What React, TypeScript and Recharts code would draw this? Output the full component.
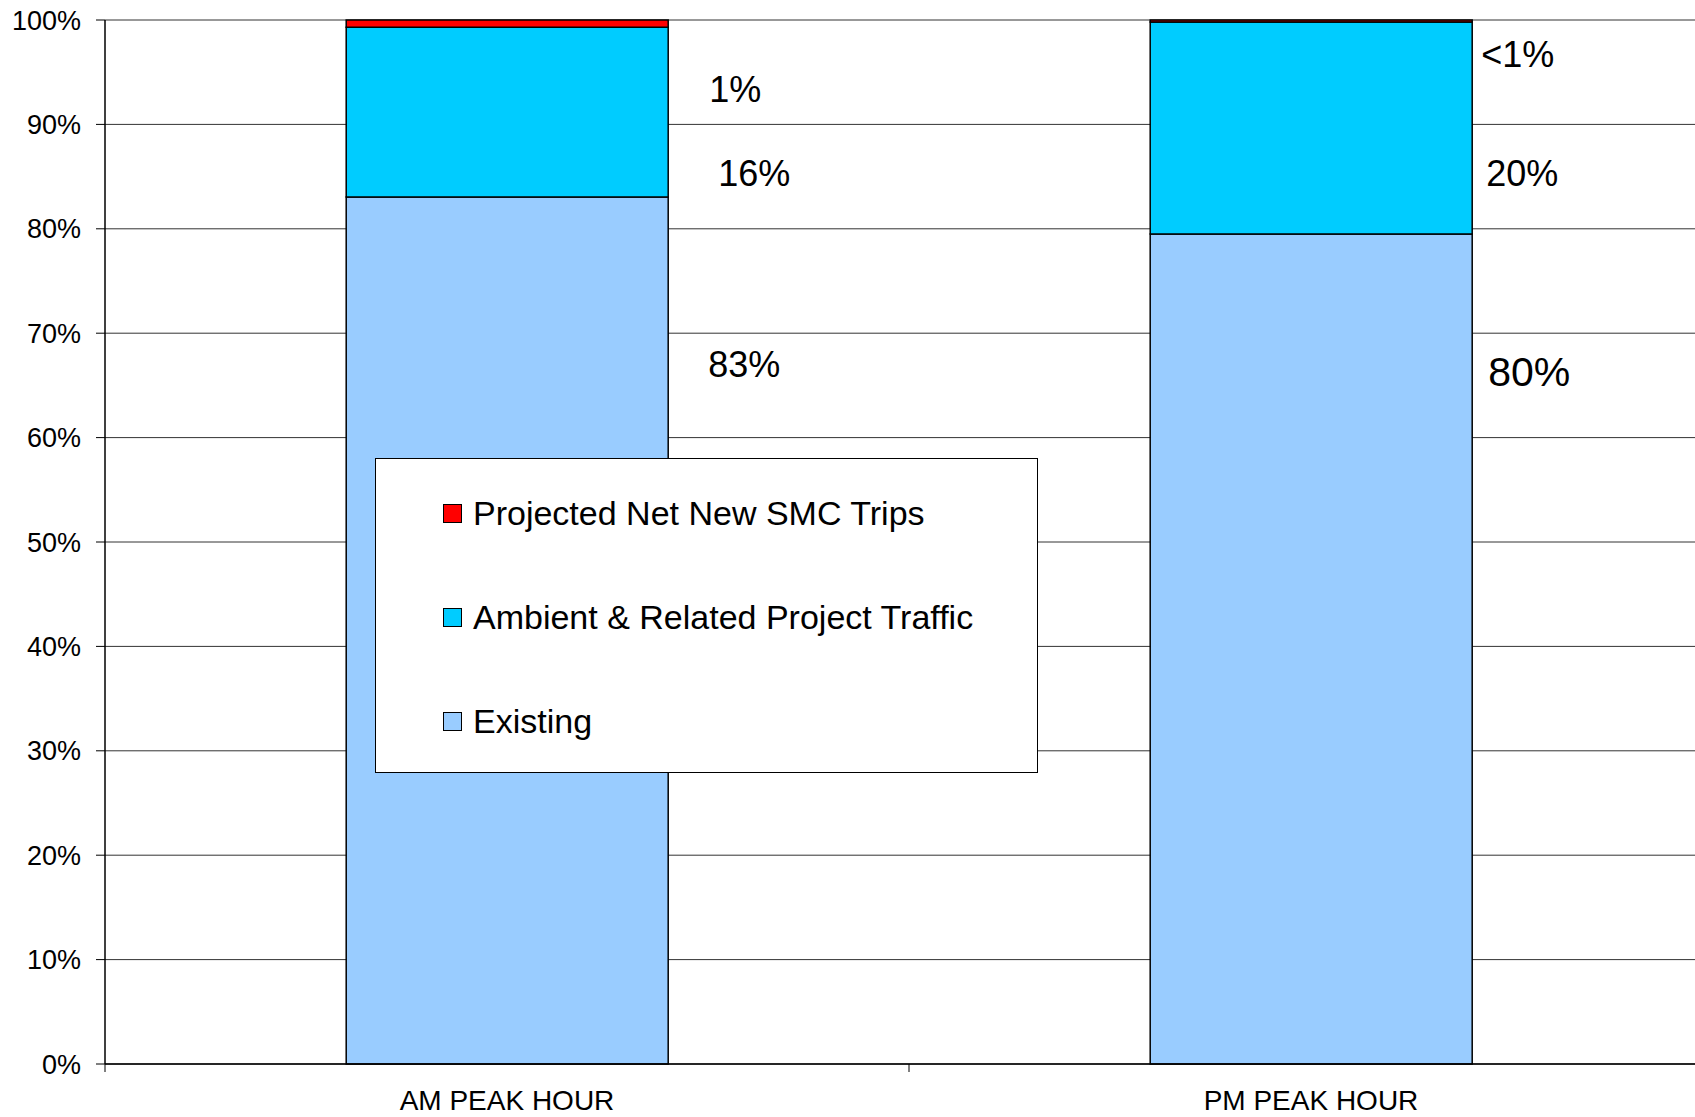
import React from 'react';
import { BarChart, Bar, XAxis, YAxis, CartesianGrid, Legend, LabelList } from 'recharts';

const CATEGORIES = ['AM PEAK HOUR', 'PM PEAK HOUR'];
const EXISTING = [83.05, 79.5];
const AMBIENT = [16.25, 20.3];
const SMC = [0.7, 0.2];
const EXISTING_LABELS = ['83%', '80%'];
const AMBIENT_LABELS = ['16%', '20%'];
const SMC_LABELS = ['1%', '<1%'];
const Y_TICKS = [0, 10, 20, 30, 40, 50, 60, 70, 80, 90, 100];
const LEGEND_ORDER = ['Projected Net New SMC Trips', 'Ambient & Related Project Traffic', 'Existing'];

const FONT = '"Liberation Sans", Arial, Helvetica, sans-serif';

const data = CATEGORIES.map((name, i) => ({
  name,
  existing: EXISTING[i],
  ambient: AMBIENT[i],
  smc: SMC[i],
}));

// hand-placed label offsets (relative to the segment's top right corner), like the original
const LABEL_POS: Record<string, { dx: number; dy: number; size: number }[]> = {
  existing: [{ dx: 40, dy: 168, size: 36 }, { dx: 16, dy: 138, size: 41 }],
  ambient: [{ dx: 50, dy: 146, size: 36 }, { dx: 14, dy: 151, size: 36 }],
  smc: [{ dx: 41, dy: 69, size: 36 }, { dx: 9, dy: 34, size: 36 }],
};

const makeLabel = (key: string, texts: string[]) => (props: any) => {
  const { x, y, width, index } = props;
  const p = LABEL_POS[key][index];
  return (
    <text
      x={Number(x) + Number(width) + p.dx}
      y={Number(y) + p.dy}
      fontSize={p.size}
      fontFamily={FONT}
      fill="#000"
      dominantBaseline="central"
    >
      {texts[index]}
    </text>
  );
};

const XTick = (props: any) => {
  const { x, y, payload } = props;
  const half = payload && payload.offset ? payload.offset : 402;
  return (
    <g>
      <line x1={x - half} y1={y - 8} x2={x - half} y2={y} stroke="#000" strokeWidth={1} />
      <text x={x} y={y + 38} textAnchor="middle" fontSize={28} fontFamily={FONT} fill="#000">
        {payload.value}
      </text>
    </g>
  );
};

const LegendBox = (props: any) => {
  const items = [...(props.payload || [])].sort(
    (a: any, b: any) => LEGEND_ORDER.indexOf(a.value) - LEGEND_ORDER.indexOf(b.value)
  );
  return (
    <div style={{ paddingTop: 2 }}>
      {items.map((it: any) => (
        <div
          key={it.value}
          style={{ height: 104, display: 'flex', alignItems: 'center', paddingLeft: 67 }}
        >
          <span
            style={{
              display: 'inline-block',
              width: 17,
              height: 17,
              background: it.color,
              border: '1px solid #000',
              marginRight: 11,
            }}
          />
          <span style={{ fontFamily: FONT, fontSize: 34, color: '#000', whiteSpace: 'nowrap' }}>
            {it.value}
          </span>
        </div>
      ))}
    </div>
  );
};

export default function App() {
  return (
    <div
      style={{
        position: 'fixed',
        left: 0,
        top: 0,
        width: 1695,
        height: 1117,
        overflow: 'hidden',
        background: '#fff',
      }}
    >
      <BarChart
        width={1713}
        height={1117}
        data={data}
        margin={{ top: 20, right: 0, left: 0, bottom: 0 }}
        barCategoryGap="30%"
      >
        <CartesianGrid vertical={false} stroke="#333" strokeWidth={1} />
        <XAxis
          dataKey="name"
          height={53}
          tickLine={false}
          tickSize={8}
          tickMargin={0}
          axisLine={{ stroke: '#000', strokeWidth: 1.5 }}
          tick={<XTick />}
          interval={0}
        />
        <YAxis
          width={105}
          domain={[0, 100]}
          ticks={Y_TICKS}
          interval={0}
          tickFormatter={(v: number) => `${v}%`}
          tickSize={9}
          tickMargin={15}
          axisLine={{ stroke: '#000', strokeWidth: 1.5 }}
          tickLine={{ stroke: '#000', strokeWidth: 1 }}
          tick={{ fontSize: 27, fontFamily: FONT, fill: '#000' }}
        />
        <Legend
          layout="vertical"
          align="center"
          verticalAlign="middle"
          content={<LegendBox />}
          wrapperStyle={{
            left: 375,
            top: 458,
            width: 661,
            height: 313,
            border: '1px solid #000',
            background: '#fff',
            boxSizing: 'content-box',
          }}
        />
        <Bar dataKey="existing" name="Existing" stackId="a" fill="#99CCFF" stroke="#000" strokeWidth={1.5} isAnimationActive={false}>
          <LabelList dataKey="existing" content={makeLabel('existing', EXISTING_LABELS)} />
        </Bar>
        <Bar dataKey="ambient" name="Ambient & Related Project Traffic" stackId="a" fill="#00CCFF" stroke="#000" strokeWidth={1.5} isAnimationActive={false}>
          <LabelList dataKey="ambient" content={makeLabel('ambient', AMBIENT_LABELS)} />
        </Bar>
        <Bar dataKey="smc" name="Projected Net New SMC Trips" stackId="a" fill="#FF0000" stroke="#000" strokeWidth={1.5} isAnimationActive={false}>
          <LabelList dataKey="smc" content={makeLabel('smc', SMC_LABELS)} />
        </Bar>
      </BarChart>
    </div>
  );
}
